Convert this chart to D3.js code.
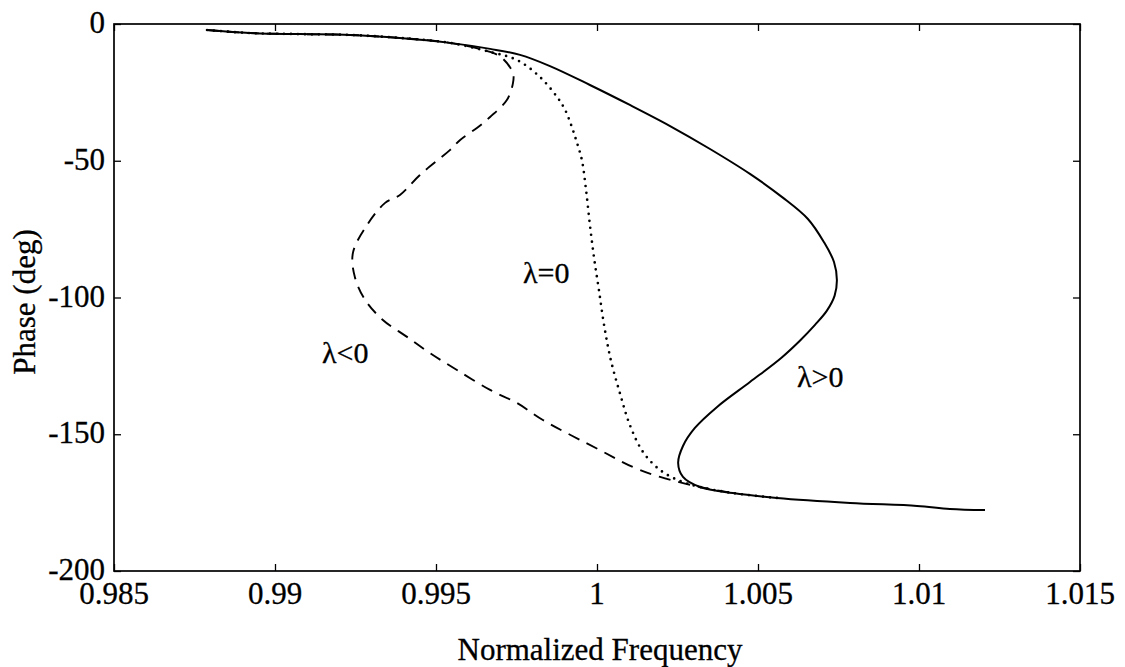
<!DOCTYPE html>
<html>
<head>
<meta charset="utf-8">
<script src="https://cdn.jsdelivr.net/npm/d3@7"></script>
<style>
  html, body { margin: 0; padding: 0; background: #fff; }
  svg { display: block; }
  text { font-family: "Liberation Serif", "Times New Roman", serif; fill: #000; stroke: #000; stroke-width: 0.3; }
</style>
</head>
<body>
<svg id="chart" width="1125" height="667"></svg>
<script>
// ---------- data ----------
const xTicks = [0.985, 0.99, 0.995, 1.0, 1.005, 1.01, 1.015];
const xTickLabels = ["0.985", "0.99", "0.995", "1", "1.005", "1.01", "1.015"];
const yTicks = [0, -50, -100, -150, -200];
const yTickLabels = ["0", "-50", "-100", "-150", "-200"];

// λ>0 (solid)
const freqPos = [0.98789, 0.98922, 0.99078, 0.99233, 0.99388, 0.99543, 0.99668, 0.99761, 0.99854, 0.99978,
  1.00102, 1.00227, 1.00351, 1.00475, 1.00575, 1.00655, 1.00705, 1.00736, 1.00745, 1.00738,
  1.00714, 1.00677, 1.00630, 1.00572, 1.00475, 1.00373, 1.00304, 1.00267, 1.00252, 1.00267,
  1.00320, 1.00422, 1.00559, 1.00786, 1.00994, 1.01096, 1.01205];
const phasePos = [-2.2, -3.3, -3.7, -4.0, -5.1, -6.9, -9.1, -11.3, -15.4, -22.3,
  -29.6, -37.3, -45.7, -54.8, -63.3, -71.3, -79.8, -87.0, -93.6, -99.3,
  -104.8, -110.0, -115.8, -122.1, -130.9, -140.0, -147.7, -154.3, -160.5, -165.6,
  -169.3, -171.5, -173.3, -175.1, -176.2, -177.3, -177.7];

// λ=0 (dotted)
const freqZero = [0.98789, 0.98922, 0.99078, 0.99233, 0.99388, 0.99543, 0.99668, 0.99752, 0.99823, 0.99876,
  0.99901, 0.99922, 0.99938, 0.99953, 0.99966, 0.99978, 0.99991, 1.00006, 1.00022, 1.00043,
  1.00071, 1.00102, 1.00143, 1.00196, 1.00258, 1.00320, 1.00422, 1.00559];
const phaseZero = [-2.2, -3.3, -3.7, -4.0, -5.1, -6.9, -10.2, -13.2, -19.4, -26.7,
  -31.4, -37.7, -43.5, -49.7, -60.7, -73.5, -85.6, -97.3, -110.1, -122.9,
  -134.9, -146.6, -156.5, -163.1, -167.1, -169.3, -171.5, -173.3];

// λ<0 (dashed)
const freqNeg = [0.98789, 0.98922, 0.99078, 0.99233, 0.99388, 0.99543, 0.99668, 0.99705, 0.99739, 0.99739,
  0.99720, 0.99668, 0.99627, 0.99575, 0.99543, 0.99450, 0.99388, 0.99342, 0.99286, 0.99242,
  0.99248, 0.99280, 0.99335, 0.99410, 0.99481, 0.99565, 0.99668, 0.99752, 0.99832, 1.00009,
  1.00112, 1.00196, 1.00320, 1.00422];
const phaseNeg = [-2.2, -3.3, -3.7, -4.0, -5.1, -6.9, -10.2, -12.4, -17.9, -21.6,
  -27.8, -34.0, -38.0, -42.4, -46.1, -55.2, -62.5, -65.4, -73.5, -83.7,
  -92.5, -100.9, -108.2, -114.4, -120.3, -126.5, -133.8, -138.6, -144.8, -155.8,
  -162.0, -165.6, -169.3, -171.5];

const curveLabels = [
  { text: "\u03bb<0", f: 0.99146, p: -123.9 },
  { text: "\u03bb=0", f: 0.99770, p: -94.7 },
  { text: "\u03bb>0", f: 1.00621, p: -132.7 }
];

// ---------- layout ----------
const plotLeft = 114, plotRight = 1080, plotTop = 24, plotBottom = 571;
const svg = d3.select("#chart");
const fontSize = 31;

const x = d3.scaleLinear().domain([0.985, 1.015]).range([plotLeft, plotRight]);
const y = d3.scaleLinear().domain([-200, 0]).range([plotBottom, plotTop]);

// frame
svg.append("rect")
  .attr("x", plotLeft).attr("y", plotTop)
  .attr("width", plotRight - plotLeft).attr("height", plotBottom - plotTop)
  .attr("fill", "none").attr("stroke", "#000").attr("stroke-width", 1.7);

// axes with inward ticks (labels drawn separately)
const tickLen = 7;
function styleAxis(g) {
  g.select(".domain").remove();
  g.selectAll(".tick line").attr("stroke", "#000").attr("stroke-width", 1.3);
  g.selectAll(".tick text").remove();
}
svg.append("g").attr("transform", `translate(0,${plotBottom})`)
  .call(d3.axisBottom(x).tickValues(xTicks).tickSize(-tickLen)).call(styleAxis);
svg.append("g").attr("transform", `translate(0,${plotTop})`)
  .call(d3.axisTop(x).tickValues(xTicks).tickSize(-tickLen)).call(styleAxis);
svg.append("g").attr("transform", `translate(${plotLeft},0)`)
  .call(d3.axisLeft(y).tickValues(yTicks).tickSize(-tickLen)).call(styleAxis);
svg.append("g").attr("transform", `translate(${plotRight},0)`)
  .call(d3.axisRight(y).tickValues(yTicks).tickSize(-tickLen)).call(styleAxis);

// tick labels
svg.append("g").selectAll("text").data(xTicks).join("text")
  .attr("x", d => x(d)).attr("y", 604)
  .attr("text-anchor", "middle")
  .attr("font-size", fontSize)
  .text((d, i) => xTickLabels[i]);
svg.append("g").selectAll("text").data(yTicks).join("text")
  .attr("x", plotLeft - 9).attr("y", d => y(d) + 9)
  .attr("text-anchor", "end")
  .attr("font-size", fontSize)
  .text((d, i) => yTickLabels[i]);

// axis titles
svg.append("text")
  .attr("x", 600).attr("y", 660)
  .attr("text-anchor", "middle").attr("font-size", 31)
  .text("Normalized Frequency");
svg.append("text")
  .attr("transform", `translate(35,302) rotate(-90)`)
  .attr("text-anchor", "middle").attr("font-size", 31)
  .text("Phase (deg)");

// curves
const line = d3.line().x(d => x(d[0])).y(d => y(d[1])).curve(d3.curveCatmullRom.alpha(0.5));
const zip = (a, b) => a.map((v, i) => [v, b[i]]);

svg.append("path").datum(zip(freqNeg, phaseNeg))
  .attr("d", line).attr("fill", "none").attr("stroke", "#000")
  .attr("stroke-width", 1.9).attr("stroke-dasharray", "12 8");
svg.append("path").datum(zip(freqZero, phaseZero))
  .attr("d", line).attr("fill", "none").attr("stroke", "#000")
  .attr("stroke-width", 2.7).attr("stroke-linecap", "round").attr("stroke-dasharray", "0 7");
svg.append("path").datum(zip(freqPos, phasePos))
  .attr("d", line).attr("fill", "none").attr("stroke", "#000")
  .attr("stroke-width", 2);

// curve labels
svg.append("g").selectAll("text").data(curveLabels).join("text")
  .attr("x", d => x(d.f)).attr("y", d => y(d.p))
  .attr("text-anchor", "start")
  .attr("font-size", 30)
  .text(d => d.text);
</script>
</body>
</html>
